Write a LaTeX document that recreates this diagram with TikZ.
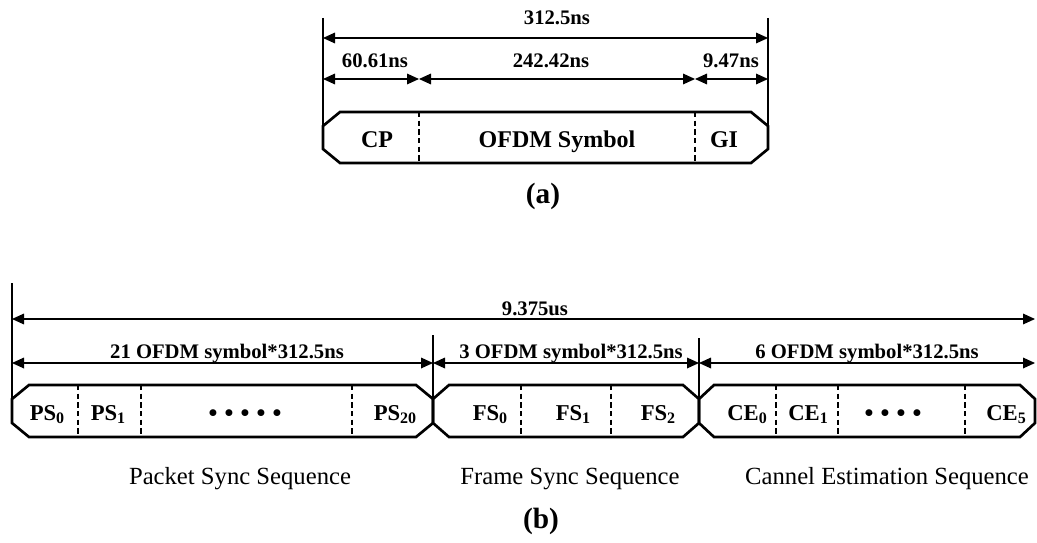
\documentclass[tikz,border=0pt]{standalone}
\usepackage{fontspec}
\setmainfont{Liberation Serif}
\usetikzlibrary{arrows.meta}

\tikzset{
  tip/.tip={Triangle[length=9pt,width=8pt]},
  dimline/.style={line width=0.9pt, tip-tip},
  extline/.style={line width=0.9pt},
  frame/.style={line width=2pt, line join=miter},
  divider/.style={line width=1.2pt, dash pattern=on 4pt off 2.5pt},
  dimlabel/.style={font=\fontsize{15.5}{18}\selectfont\bfseries, anchor=base, inner sep=0pt},
  fieldlabel/.style={font=\fontsize{18}{21}\selectfont\bfseries, anchor=base, inner sep=0pt},
  sublabel/.style={font=\fontsize{17}{20}\selectfont\bfseries, anchor=base, inner sep=0pt},
  dotlabel/.style={font=\fontsize{19}{22}\selectfont\bfseries, anchor=base, inner sep=0pt},
  seqlabel/.style={font=\fontsize{18.5}{22}\selectfont, anchor=base, inner sep=0pt},
  caption/.style={font=\fontsize{22}{26}\selectfont\bfseries, inner sep=0pt},
}

% beveled field: left x, right x, top y, bottom y, bevel width
\newcommand\seqbox[5]{%
  \draw[frame] (#1+#5,#3) -- (#2-#5,#3) -- (#2,#3+14) -- (#2,#4-14)
    -- (#2-#5,#4) -- (#1+#5,#4) -- (#1,#4-14) -- (#1,#3+14) -- cycle;}
\newcommand\dotrow[1]{\foreach \k in {1,...,#1}{\makebox[12pt]{\textbullet}}}
\newcommand\sub[1]{\raisebox{-0.3ex}{\fontsize{12}{14}\selectfont #1}}

\begin{document}
\begin{tikzpicture}[x=0.75pt, y=-0.75pt]
\useasboundingbox (0,0) rectangle (1037,542);

% ---------------- (a) one OFDM symbol ----------------
\coordinate (aL) at (323,38);  \coordinate (aR) at (768,38);
\coordinate (aLtop) at (323,18); \coordinate (aRtop) at (768,18);
\coordinate (aLbot) at (323,125); \coordinate (aRbot) at (768,125);
\coordinate (a1) at (323,79); \coordinate (a2) at (419,79);
\coordinate (a3) at (695,79); \coordinate (a4) at (768,79);

\draw[extline] (aLtop) -- (aLbot);
\draw[extline] (aRtop) -- (aRbot);
\draw[dimline] (aL) -- (aR);
\draw[dimline] (a1) -- (a2);
\draw[dimline] (a2) -- (a3);
\draw[dimline] (a3) -- (a4);

\node[dimlabel] (tsym) at (557,25) {312.5ns};
\node[dimlabel] (tcp)  at (375,68) {60.61ns};
\node[dimlabel] (tofdm) at (551,68) {242.42ns};
\node[dimlabel] (tgi)  at (731,68) {9.47ns};

\seqbox{323}{768}{112}{163}{17}
\draw[divider] (419,112) -- (419,163);
\draw[divider] (695,112) -- (695,163);

\node[fieldlabel] (cp)  at (377,147) {CP};
\node[fieldlabel] (sym) at (557,147) {OFDM Symbol};
\node[fieldlabel] (gi)  at (724,147) {GI};

\node[caption] (capa) at (543,196) {(a)};

% ---------------- (b) preamble ----------------
\coordinate (bL) at (12,319); \coordinate (bR) at (1035,319);
\coordinate (bLtop) at (12,283); \coordinate (bLbot) at (12,400);
\coordinate (bMtop) at (433,335); \coordinate (bMbot) at (433,400);
\coordinate (bNtop) at (699,338); \coordinate (bNbot) at (699,400);
\coordinate (b1) at (12,363); \coordinate (b2) at (433,363);
\coordinate (b3) at (699,363); \coordinate (b4) at (1035,363);

\draw[extline] (bLtop) -- (bLbot);
\draw[extline] (bMtop) -- (bMbot);
\draw[extline] (bNtop) -- (bNbot);
\draw[dimline] (bL) -- (bR);
\draw[dimline] (b1) -- (b2);
\draw[dimline] (b2) -- (b3);
\draw[dimline] (b3) -- (b4);

\node[dimlabel] (ttot) at (535,315) {9.375us};
\node[dimlabel] (tps) at (227,358) {21 OFDM symbol*312.5ns};
\node[dimlabel] (tfs) at (571,358) {3 OFDM symbol*312.5ns};
\node[dimlabel] (tce) at (867,358) {6 OFDM symbol*312.5ns};

\seqbox{12}{433}{385}{437}{17}
\seqbox{433}{699}{385}{437}{16}
\seqbox{699}{1035}{385}{437}{15}

\foreach \x in {78,141,352,521,611,776,838,965}
  \draw[divider] (\x,385) -- (\x,437);

\node[sublabel] (ps0)  at (47,420)  {PS\sub{0}};
\node[sublabel] (ps1)  at (108,420) {PS\sub{1}};
\node[dotlabel] (psd)  at (245,421) {\dotrow{5}};
\node[sublabel] (ps20) at (395,420) {PS\sub{20}};
\node[sublabel] (fs0)  at (490,420) {FS\sub{0}};
\node[sublabel] (fs1)  at (573,420) {FS\sub{1}};
\node[sublabel] (fs2)  at (658,420) {FS\sub{2}};
\node[sublabel] (ce0)  at (747,420) {CE\sub{0}};
\node[sublabel] (ce1)  at (808,420) {CE\sub{1}};
\node[dotlabel] (ced)  at (893,421) {\dotrow{4}};
\node[sublabel] (ce5)  at (1006,420) {CE\sub{5}};

\node[seqlabel] (pss) at (240,484) {Packet Sync Sequence};
\node[seqlabel] (fss) at (570,484) {Frame Sync Sequence};
\node[seqlabel] (ces) at (887,484) {Cannel Estimation Sequence};

\node[caption] (capb) at (541,521) {(b)};
\end{tikzpicture}
\end{document}
